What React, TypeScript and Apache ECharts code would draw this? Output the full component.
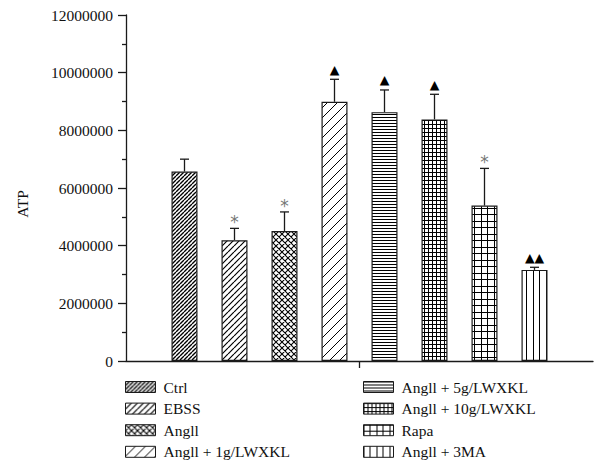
import React, { useEffect, useRef } from "react";
import * as echarts from "echarts";

const groups = [
  "Ctrl",
  "EBSS",
  "Angll",
  "Angll + 1g/LWXKL",
  "Angll + 5g/LWXKL",
  "Angll + 10g/LWXKL",
  "Rapa",
  "Angll + 3MA",
];
const means = [6570000, 4190000, 4510000, 8990000, 8630000, 8380000, 5390000, 3160000];
const errTops = [7000000, 4600000, 5170000, 9770000, 9400000, 9250000, 6680000, 3250000];
const marks = ["", "*", "*", "▲", "▲", "▲", "*", "▲▲"];
const yMin = 0;
const yMax = 12000000;
const yStep = 2000000;

const patternKinds = [
  { kind: "diag", w: 4, h: 4, lw: 1.4 },
  { kind: "diag", w: 6, h: 6, lw: 1.2 },
  { kind: "cross", w: 6, h: 6, lw: 1.1 },
  { kind: "diag", w: 10, h: 10, lw: 1 },
  { kind: "hline", w: 4, h: 3, lw: 1 },
  { kind: "grid", w: 4, h: 4, lw: 1 },
  { kind: "grid2", w: 13, h: 13, lw: 1 },
  { kind: "vline2", w: 13, h: 4, lw: 1 },
];

const BAR_W = 26;
const STEP = 50;
const FONT = "Liberation Serif";

function makePattern(p: { kind: string; w: number; h: number; lw: number }) {
  const c = document.createElement("canvas");
  c.width = p.w;
  c.height = p.h;
  const ctx = c.getContext("2d")!;
  ctx.fillStyle = "#fff";
  ctx.fillRect(0, 0, p.w, p.h);
  ctx.strokeStyle = "#000";
  ctx.lineWidth = p.lw;
  ctx.beginPath();
  const s = p.w;
  if (p.kind === "diag" || p.kind === "cross") {
    for (let k = -1; k <= 1; k++) {
      ctx.moveTo(k * s, s);
      ctx.lineTo(k * s + s, 0);
    }
  }
  if (p.kind === "cross") {
    for (let k = -1; k <= 1; k++) {
      ctx.moveTo(k * s, 0);
      ctx.lineTo(k * s + s, s);
    }
  }
  if (p.kind === "hline") {
    ctx.moveTo(0, 0.5);
    ctx.lineTo(p.w, 0.5);
  }
  if (p.kind === "grid") {
    ctx.moveTo(0, 0.5);
    ctx.lineTo(p.w, 0.5);
    ctx.moveTo(0.5, 0);
    ctx.lineTo(0.5, p.h);
  }
  if (p.kind === "grid2") {
    for (const v of [0.5, 6.5]) {
      ctx.moveTo(0, v);
      ctx.lineTo(p.w, v);
      ctx.moveTo(v, 0);
      ctx.lineTo(v, p.h);
    }
  }
  if (p.kind === "vline2") {
    for (const v of [0.5, 6.5]) {
      ctx.moveTo(v, 0);
      ctx.lineTo(v, p.h);
    }
  }
  ctx.stroke();
  return { image: c.toDataURL(), repeat: "repeat", imageWidth: p.w, imageHeight: p.h };
}

export default function App() {
  const ref = useRef<HTMLDivElement>(null);
  useEffect(() => {
    if (!ref.current) return;
    const chart = echarts.init(ref.current, undefined, { renderer: "svg" });
    const patterns = patternKinds.map(makePattern);
    const barSeries = groups.map((g, i) => ({
      name: g,
      type: "bar",
      data: [means[i]],
      barWidth: BAR_W,
      barGap: (((STEP - BAR_W) / BAR_W) * 100).toFixed(2) + "%",
      itemStyle: { color: patterns[i] as any, borderColor: "#1a1a1a", borderWidth: 1.2 },
      emphasis: { disabled: true },
    }));
    const legendCommon = {
      orient: "vertical",
      icon: "rect",
      itemWidth: 30,
      itemHeight: 11,
      itemGap: 5.6,
      height: 200,
      width: 230,
      padding: 0,
      selectedMode: false,
      itemStyle: { borderColor: "#1a1a1a", borderWidth: 1 },
      textStyle: { fontFamily: FONT, fontSize: 15.5, color: "#111", padding: [0, 0, 0, 3] },
    };
    chart.setOption({
      animation: false,
      backgroundColor: "#fff",
      grid: { left: 126, right: 12, top: 15, bottom: 109, containLabel: false },
      legend: [
        { ...legendCommon, left: 125, top: 379, data: groups.slice(0, 4) },
        { ...legendCommon, left: 363, top: 379, data: groups.slice(4) },
      ],
      xAxis: {
        type: "category",
        data: [""],
        axisLine: { lineStyle: { color: "#1a1a1a", width: 1.3 } },
        axisTick: { show: true, alignWithLabel: true, length: 7, lineStyle: { color: "#1a1a1a", width: 1.3 } },
        axisLabel: { show: false },
      },
      yAxis: {
        type: "value",
        min: yMin,
        max: yMax,
        interval: yStep,
        axisLine: { show: true, lineStyle: { color: "#1a1a1a", width: 1.3 } },
        axisTick: { show: true, length: 8, lineStyle: { color: "#1a1a1a", width: 1.3 } },
        minorTick: { show: true, splitNumber: 2, length: 4, lineStyle: { color: "#1a1a1a", width: 1.3 } },
        splitLine: { show: false },
        axisLabel: {
          fontFamily: FONT,
          fontSize: 15.5,
          color: "#111",
          margin: 13,
          formatter: (v: number) => String(v),
        },
      },
      graphic: [
        {
          type: "text",
          x: 22,
          y: 204,
          rotation: Math.PI / 2,
          style: {
            text: "ATP",
            fontFamily: FONT,
            fontSize: 15.5,
            fill: "#111",
            align: "center",
            verticalAlign: "middle",
          },
        },
      ],
      series: [
        ...barSeries,
        {
          type: "custom",
          name: "err",
          data: groups.map((g, i) => [0, means[i], errTops[i], i]),
          encode: { x: 0, y: 1 },
          z: 5,
          renderItem: (params: any, api: any) => {
            const idx = api.value(3);
            const base = api.coord([0, api.value(1)]);
            const top = api.coord([0, api.value(2)]);
            const cx = base[0] + (idx - 3.5) * STEP;
            const mark = marks[idx];
            const children: any[] = [
              {
                type: "line",
                shape: { x1: cx, y1: base[1], x2: cx, y2: top[1] },
                style: { stroke: "#1a1a1a", lineWidth: 1.3 },
              },
              {
                type: "line",
                shape: { x1: cx - 4.5, y1: top[1], x2: cx + 4.5, y2: top[1] },
                style: { stroke: "#1a1a1a", lineWidth: 1.3 },
              },
            ];
            if (mark) {
              const isStar = mark === "*";
              children.push({
                type: "text",
                x: cx,
                y: isStar ? top[1] - 6 : top[1] - 10,
                style: {
                  text: mark,
                  fontFamily: "DejaVu Sans",
                  fontSize: isStar ? 17 : 12.5,
                  fill: isStar ? "#777" : "#000",
                  align: "center",
                  verticalAlign: "middle",
                },
              });
            }
            return { type: "group", children };
          },
        },
      ],
    } as any);
    return () => chart.dispose();
  }, []);
  return <div ref={ref} style={{ width: 605, height: 470, position: "absolute", left: 0, top: 0 }} />;
}
